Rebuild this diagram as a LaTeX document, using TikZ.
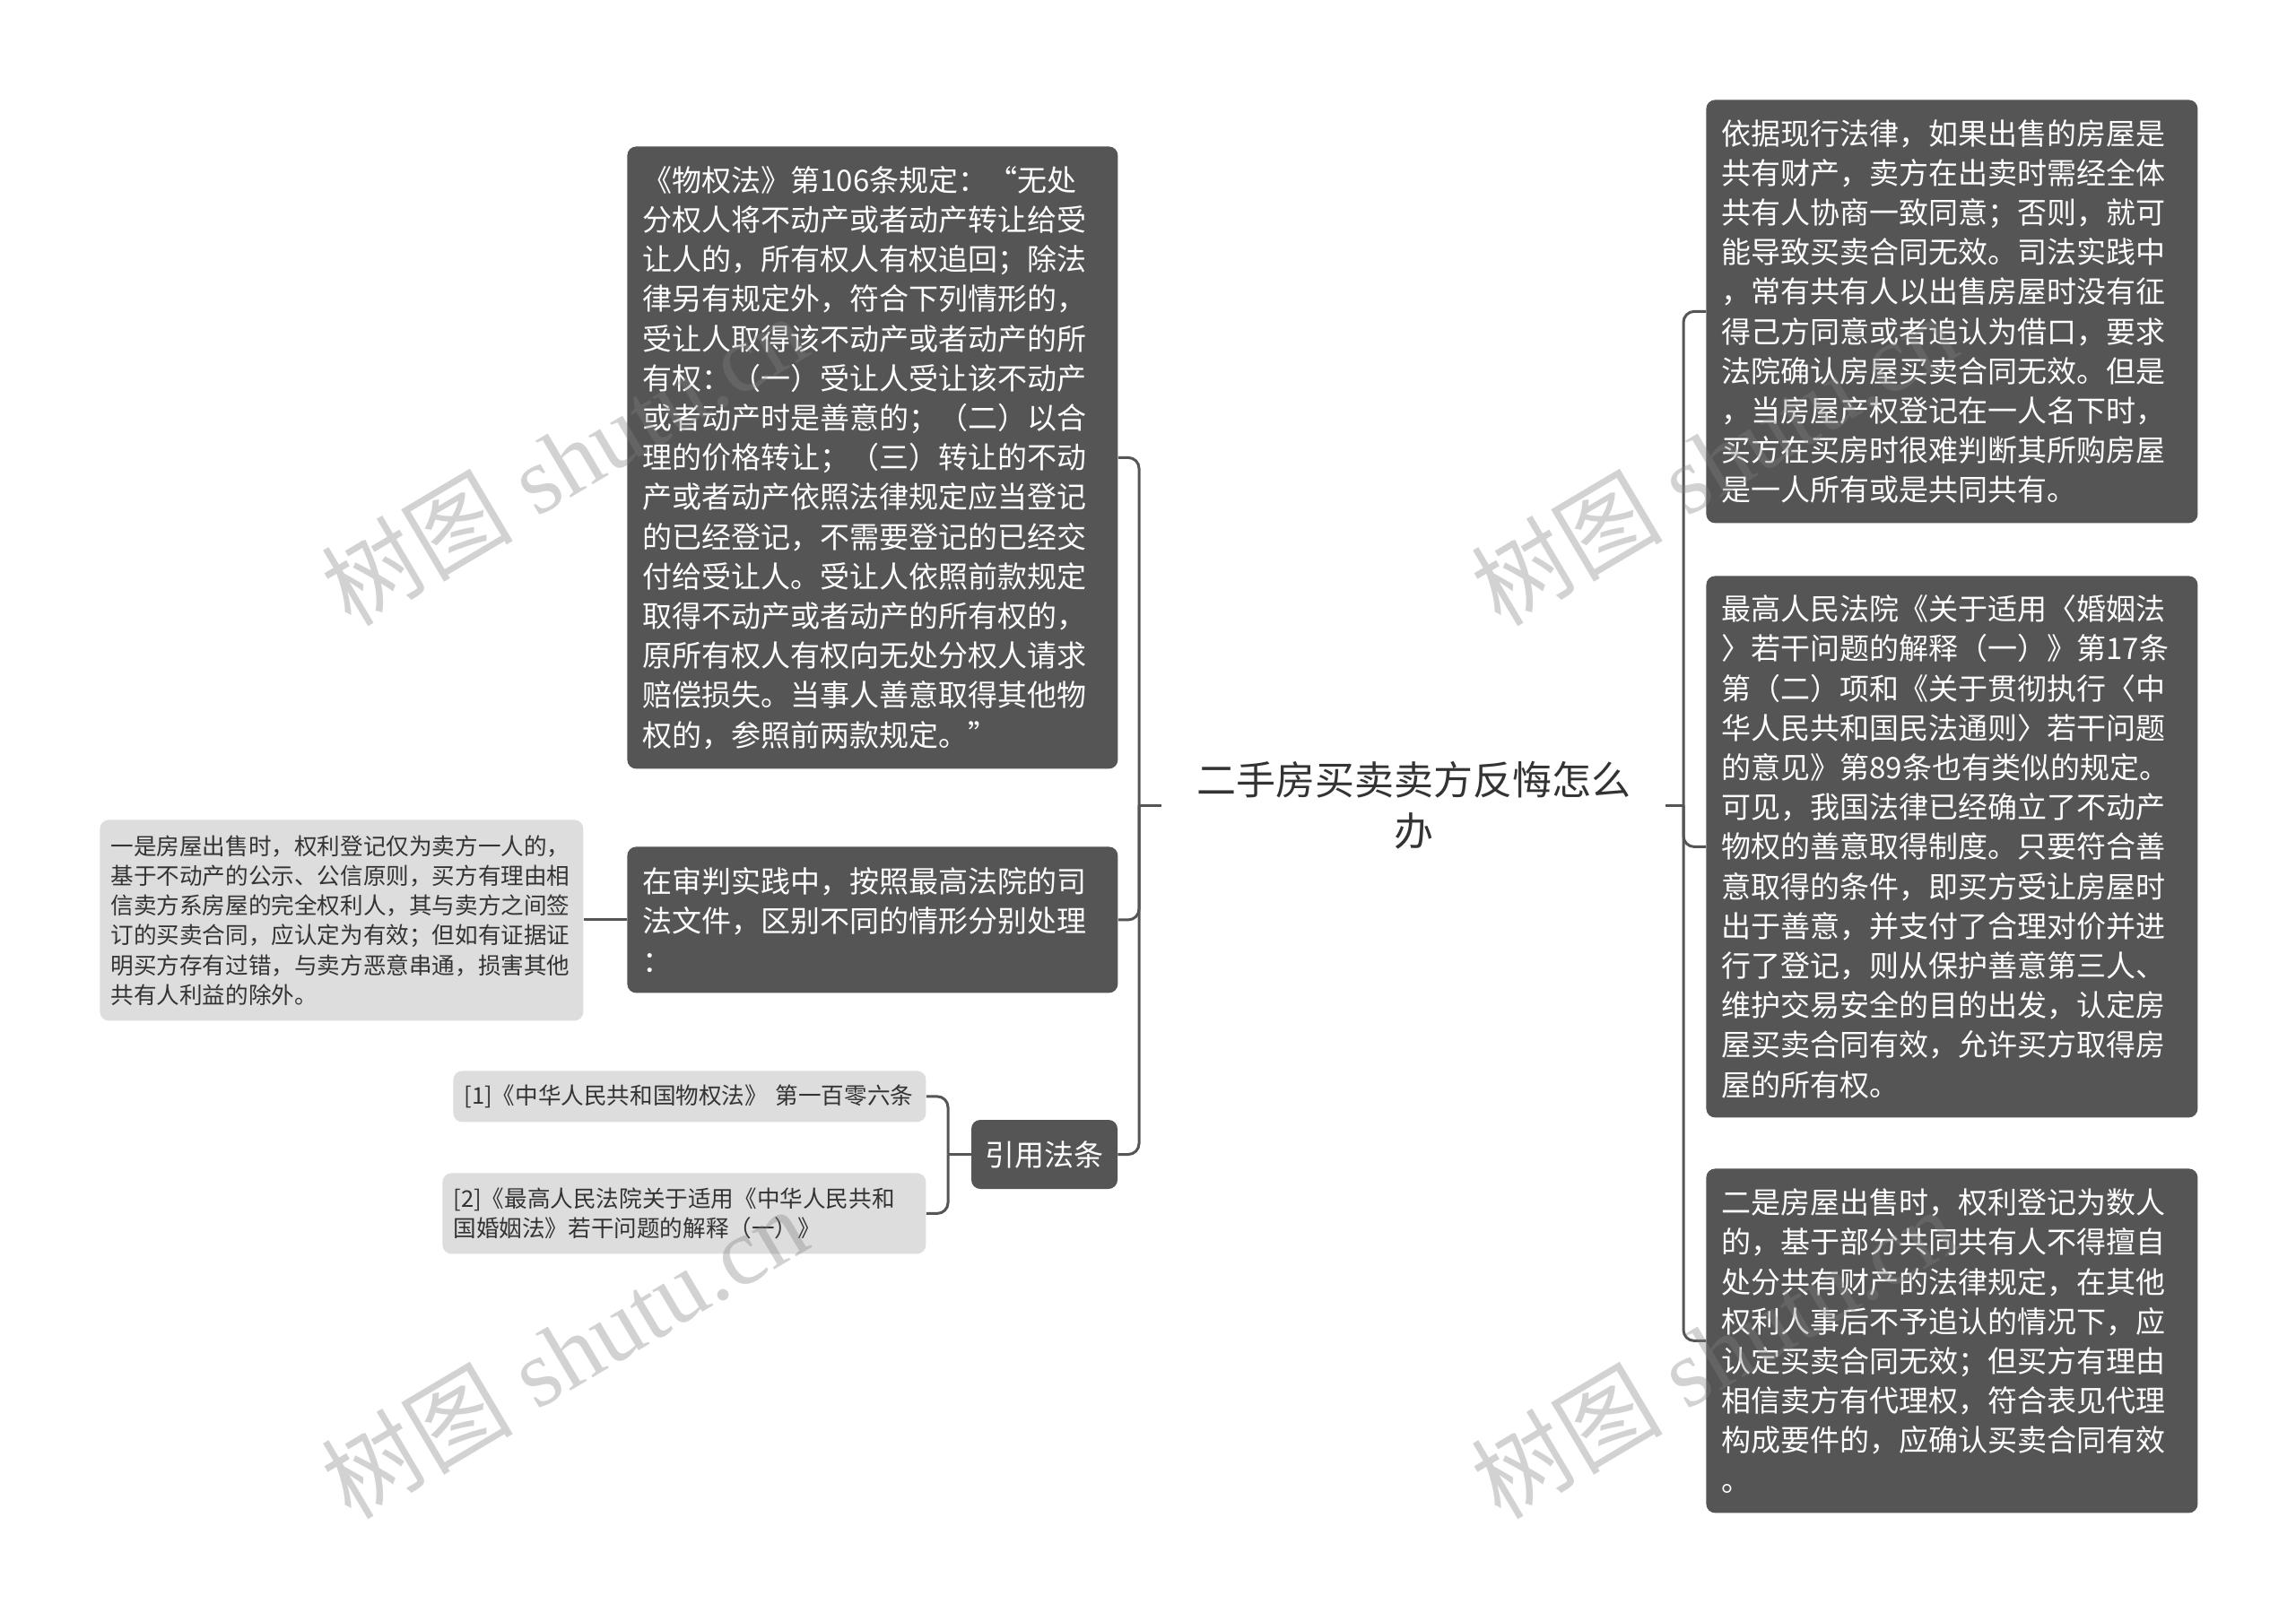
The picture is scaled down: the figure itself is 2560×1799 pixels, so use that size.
\documentclass[tikz,border=0pt]{standalone}
\usepackage{fontspec}
\setmainfont{Noto Sans CJK SC}
\newfontfamily\cjk{Noto Sans CJK SC}
\newfontfamily\wmlat{Liberation Serif}
\definecolor{boxdark}{HTML}{555555}
\definecolor{boxlight}{HTML}{DDDDDD}
\definecolor{linec}{HTML}{555555}
\definecolor{txtdark}{HTML}{333333}
\tikzset{
  darkbox/.style={fill=boxdark, text=white, rounded corners=5pt, inner xsep=8.5pt, inner ysep=3pt,
    align=left, font=\fontsize{16.5pt}{22.1pt}\selectfont, anchor=north west},
  lightbox/.style={fill=boxlight, text=txtdark, rounded corners=5pt, inner xsep=6pt, inner ysep=3pt,
    align=left, font=\fontsize{12.8pt}{16.6pt}\selectfont, anchor=north west},
  conn/.style={draw=linec, line width=1.5pt},
  bracket/.style={conn, rounded corners=6pt},
  wm/.style={text=black!50, opacity=0.35, anchor=base west, rotate=30.7, inner sep=0pt,
    font=\wmlat\fontsize{53.5pt}{60pt}\selectfont},
}
\begin{document}
\begin{tikzpicture}[x=0.5pt, y=-0.5pt]
\fill[white] (0,0) rectangle (2560,1799);
\useasboundingbox (0,0) rectangle (2560,1799);

% root
\node[align=center, text=txtdark, inner xsep=15.5pt, inner ysep=2pt, text width=250pt,
  font=\fontsize{22pt}{28.5pt}\selectfont] (root) at (1576,898) {二手房买卖卖方反悔怎么\\办};

% left side
\node[darkbox, text width=256.5pt, minimum height=347pt] (t1) at (699,163) {《物权法》第106条规定：“无处\\分权人将不动产或者动产转让给受\\让人的，所有权人有权追回；除法\\律另有规定外，符合下列情形的，\\受让人取得该不动产或者动产的所\\有权：（一）受让人受让该不动产\\或者动产时是善意的；（二）以合\\理的价格转让；（三）转让的不动\\产或者动产依照法律规定应当登记\\的已经登记，不需要登记的已经交\\付给受让人。受让人依照前款规定\\取得不动产或者动产的所有权的，\\原所有权人有权向无处分权人请求\\赔偿损失。当事人善意取得其他物\\权的，参照前两款规定。”};

\node[darkbox, text width=256.5pt, minimum height=81.5pt] (t2) at (699,944) {在审判实践中，按照最高法院的司\\法文件，区别不同的情形分别处理\\：};

\node[darkbox, anchor=center, align=center, inner xsep=0pt, minimum width=81.5pt, minimum height=38.5pt] (t3) at (1164.5,1287.5) {引用法条};

\node[lightbox, text width=257.5pt, minimum height=112pt] (l1) at (111,914) {一是房屋出售时，权利登记仅为卖方一人的，\\基于不动产的公示、公信原则，买方有理由相\\信卖方系房屋的完全权利人，其与卖方之间签\\订的买卖合同，应认定为有效；但如有证据证\\明买方存有过错，与卖方恶意串通，损害其他\\共有人利益的除外。};

\node[lightbox, text width=251.5pt, minimum height=28.5pt] (c1) at (505,1194) {[1]《中华人民共和国物权法》 第一百零六条};

\node[lightbox, text width=257.5pt, minimum height=45pt] (c2) at (493,1308) {[2]《最高人民法院关于适用《中华人民共和\\国婚姻法》若干问题的解释（一）》};

% right side
\node[darkbox, text width=257pt, minimum height=236pt] (r1) at (1902,111) {依据现行法律，如果出售的房屋是\\共有财产，卖方在出卖时需经全体\\共有人协商一致同意；否则，就可\\能导致买卖合同无效。司法实践中\\，常有共有人以出售房屋时没有征\\得己方同意或者追认为借口，要求\\法院确认房屋买卖合同无效。但是\\，当房屋产权登记在一人名下时，\\买方在买房时很难判断其所购房屋\\是一人所有或是共同共有。};

\node[darkbox, text width=257pt, minimum height=302pt] (r2) at (1902,642) {最高人民法院《关于适用〈婚姻法\\〉若干问题的解释（一）》第17条\\第（二）项和《关于贯彻执行〈中\\华人民共和国民法通则〉若干问题\\的意见》第89条也有类似的规定。\\可见，我国法律已经确立了不动产\\物权的善意取得制度。只要符合善\\意取得的条件，即买方受让房屋时\\出于善意，并支付了合理对价并进\\行了登记，则从保护善意第三人、\\维护交易安全的目的出发，认定房\\屋买卖合同有效，允许买方取得房\\屋的所有权。};

\node[darkbox, text width=257pt, minimum height=192pt] (r3) at (1902,1303) {二是房屋出售时，权利登记为数人\\的，基于部分共同共有人不得擅自\\处分共有财产的法律规定，在其他\\权利人事后不予追认的情况下，应\\认定买卖合同无效；但买方有理由\\相信卖方有代理权，符合表见代理\\构成要件的，应确认买卖合同有效\\。};

% junctions
\coordinate (LJ) at (1270,898);
\coordinate (RJ) at (1877,898);
\coordinate (CJ) at (1057,1287.5);

% connectors
\draw[conn] (root.west) -- (LJ);
\draw[bracket] (LJ) |- (t1.east);
\draw[bracket] (LJ) |- (t2.east);
\draw[bracket] (LJ) |- (t3.east);
\draw[conn] (root.east) -- (RJ);
\draw[bracket] (RJ) |- (r1.west);
\draw[bracket] (RJ) |- (r2.west);
\draw[bracket] (RJ) |- (r3.west);
\draw[conn] (t3.west) -- (CJ);
\draw[bracket] (CJ) |- (c1.east);
\draw[bracket] (CJ) |- (c2.east);
\draw[conn] (t2.west) -- (l1.east |- t2.west);

% watermarks
\node[wm] (w1) at (391,701) {{\cjk 树图} shutu.cn};
\node[wm] (w2) at (1673,701) {{\cjk 树图} shutu.cn};
\node[wm] (w3) at (391,1697) {{\cjk 树图} shutu.cn};
\node[wm] (w4) at (1673,1697) {{\cjk 树图} shutu.cn};
\end{tikzpicture}
\end{document}
